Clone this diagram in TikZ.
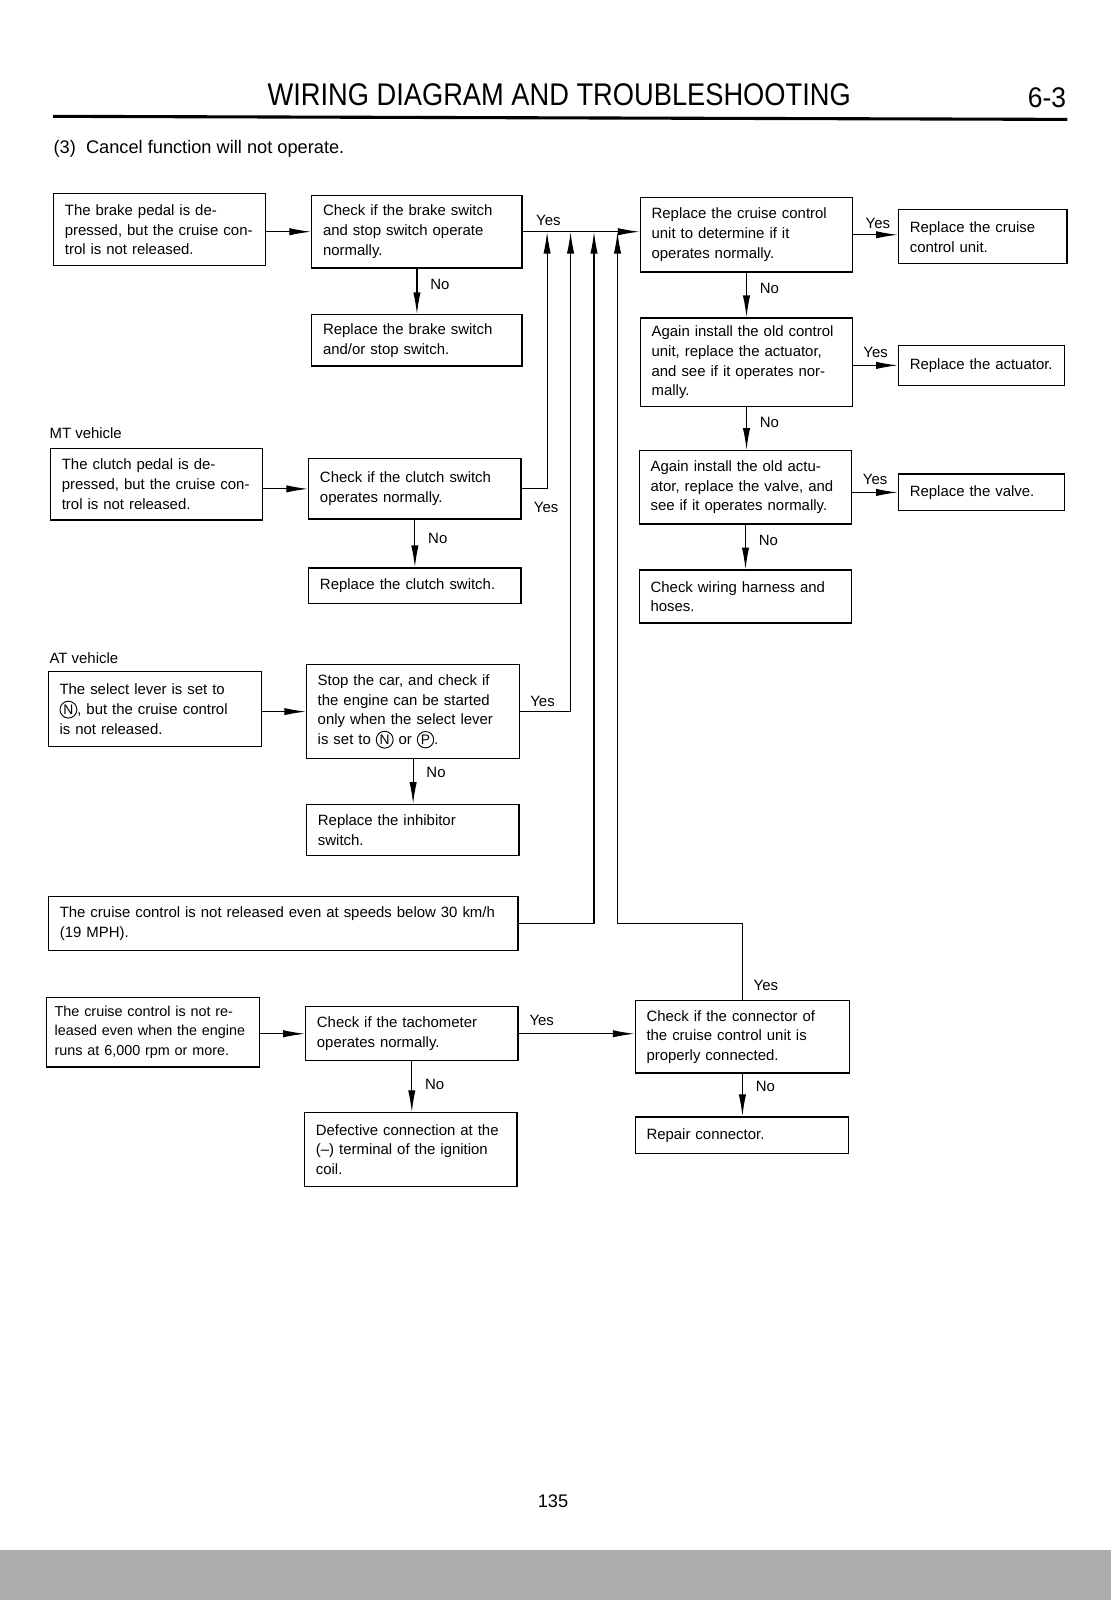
\documentclass[tikz,border=0pt]{standalone}
\usepackage{fontspec}
\setmainfont{Liberation Sans}
\usetikzlibrary{arrows.meta,calc}
\definecolor{ScanGray}{RGB}{172,172,172}
\def\u{0.56pt}
% circled gear position letter
\newcommand{\circled}[1]{\tikz[baseline=(cc.base)]\node[draw, circle, anchor=base,
  inner sep=0.6pt, text width={}, minimum width=0pt, minimum height=0pt,
  align=center, line width=0.5pt] (cc) {\fontsize{7.6}{8}\selectfont #1};}
\tikzset{
  box/.style 2 args={draw, anchor=north west, align=left,
    minimum width=#1*\u, minimum height=#2*\u,
    text width=(#1-22)*\u, inner xsep=11*\u, inner ysep=1pt},
  lbl/.style={inner sep=1pt},
  arr/.style={-{Latex[length=12pt,width=4pt]}},
}

\begin{document}
\begin{tikzpicture}[x=0.56pt, y=-0.56pt, line width=0.65pt,
  font=\fontsize{8.2}{10.8}\selectfont]
  \useasboundingbox (0,0) rectangle (1089,1568);
  \fill[ScanGray] (0,1519) rectangle (1089,1568);

  \node (title) at (548,93)
    {\scalebox{0.87}[1]{\fontsize{17.2}{20}\selectfont WIRING DIAGRAM AND TROUBLESHOOTING}};
  \node (page) at (1026,96)
    {\scalebox{0.93}[1]{\fontsize{15.6}{18}\selectfont 6-3}};
  \draw[line width=1.7pt] (52,114) -- (1046,117);
  \node[anchor=west, inner sep=0pt, font=\fontsize{10}{12}\selectfont] (sub) at (52,146)
    {(3)\ \ Cancel function will not operate.};

  % brake
  \node[box={208}{71}] (A1) at (52,189)
    {The brake pedal is de-\\pressed, but the cruise con-\\trol is not released.};
  \node[box={206}{71}] (A2) at (305,191)
    {Check if the brake switch\\and stop switch operate\\normally.};
  \node[box={206}{50}] (A3) at (305,308)
    {Replace the brake switch\\and/or stop switch.};

  % cruise control unit column
  \node[box={208}{73}] (R1) at (627,193)
    {Replace the cruise control\\unit to determine if it\\operates normally.};
  \node[box={165}{53}] (R1Y) at (880,205)
    {Replace the cruise\\control unit.};
  \node[box={208}{87}] (R2) at (627,311)
    {Again install the old control\\unit, replace the actuator,\\and see if it operates nor-\\mally.};
  \node[box={163}{39}] (R2Y) at (880,338) {Replace the actuator.};
  \node[box={208}{72}] (R3) at (626,441)
    {Again install the old actu-\\ator, replace the valve, and\\see if it operates normally.};
  \node[box={163}{36}] (R3Y) at (880,464) {Replace the valve.};
  \node[box={208}{52}] (R4) at (626,558)
    {Check wiring harness and\\hoses.};

  % MT
  \node[anchor=west, inner sep=0pt] (mt) at (48,424) {MT vehicle};
  \node[box={208}{70}] (B1) at (49,439)
    {The clutch pedal is de-\\pressed, but the cruise con-\\trol is not released.};
  \node[box={208}{59}] (B2) at (302,449)
    {Check if the clutch switch\\operates normally.};
  \node[box={208}{35}] (B3) at (302,556) {Replace the clutch switch.};

  % AT
  \node[anchor=west, inner sep=0pt] (at) at (48,645) {AT vehicle};
  \node[box={209}{73}] (C1) at (47,658)
    {The select lever is set to\\\circled{N}, but the cruise control\\is not released.};
  \node[box={209}{92}] (C2) at (300,651)
    {Stop the car, and check if\\the engine can be started\\only when the select lever\\is set to \circled{N} or \circled{P}.};
  \node[box={208}{50}] (C3) at (300,788)
    {Replace the inhibitor\\switch.};

  \node[box={460}{53}] (D) at (47,878)
    {The cruise control is not released even at speeds below 30 km/h\\(19 MPH).};

  % tachometer
  \node[box={209}{68}, inner xsep=8*\u, text width=(209-16)*\u,
    font=\fontsize{7.9}{10.8}\selectfont] (E1) at (45,977)
    {The cruise control is not re-\\leased even when the engine\\runs at 6,000 rpm or more.};
  \node[box={208}{53}] (E2) at (299,986)
    {Check if the tachometer\\operates normally.};
  \node[box={208}{72}] (E3) at (298,1090)
    {Defective connection at the\\(--) terminal of the ignition\\coil.};
  \node[box={210}{71}] (F1) at (622,980)
    {Check if the connector of\\the cruise control unit is\\properly connected.};
  \node[box={209}{36}] (F2) at (622,1094) {Repair connector.};

  \node (num) at (542,1471) {\fontsize{10}{12}\selectfont 135};

  % connectors
  \coordinate (j1) at ($(A2.east)+(24,0)$);
  \coordinate (j2) at ($(A2.east)+(47,0)$);
  \coordinate (j3) at ($(A2.east)+(70,0)$);
  \coordinate (j4) at ($(A2.east)+(93,0)$);

  \draw[arr] (A1.east |- A2.west) -- (A2.west);
  \draw[arr] (A2.east) -- (A2.east -| R1.west)
    node[lbl, pos=0.22, above=2pt] {Yes};
  \draw[arr] (A2.south) -- (A2.south |- A3.north)
    node[lbl, pos=0.35, right=6pt] {No};

  \draw[arr] (R1.east) -- (R1.east -| R1Y.west)
    node[lbl, pos=0.55, above=2pt] {Yes};
  \draw[arr] (R1.south) -- (R1.south |- R2.north)
    node[lbl, pos=0.35, right=6pt] {No};
  \draw[arr] (R2.east |- R2Y.west) -- (R2Y.west)
    node[lbl, pos=0.5, above=3pt] {Yes};
  \draw[arr] (R2.south) -- (R2.south |- R3.north)
    node[lbl, pos=0.35, right=6pt] {No};
  \draw[arr] (R3.east |- R3Y.west) -- (R3Y.west)
    node[lbl, pos=0.5, above=3pt] {Yes};
  \draw[arr] (R3.south) -- (R3.south |- R4.north)
    node[lbl, pos=0.35, right=6pt] {No};

  \draw[arr] (B1.east |- B2.west) -- (B2.west);
  \draw[arr] (B2.east) -| (j1);
  \node[lbl] (b2yes) at ($(B2.east)+(24,18)$) {Yes};
  \draw[arr] (B2.south) -- (B2.south |- B3.north)
    node[lbl, pos=0.4, right=6pt] {No};

  \draw[arr] (C1.east |- C2.west) -- (C2.west);
  \draw[arr] (C2.east) -| (j2);
  \node[lbl] (c2yes) at ($(C2.east)+(22,-10)$) {Yes};
  \draw[arr] (C2.south) -- (C2.south |- C3.north)
    node[lbl, pos=0.3, right=6pt] {No};

  \draw[arr] (D.east) -| (j3);
  \draw[arr] (F1.north) |- (j4 |- D.east) -- (j4);
  \node[lbl] (f1yes) at ($(F1.north)+(23,-14)$) {Yes};

  \draw[arr] (E1.east |- E2.west) -- (E2.west);
  \draw[arr] (E2.east) -- (E2.east -| F1.west)
    node[lbl, pos=0.2, above=3pt] {Yes};
  \draw[arr] (E2.south) -- (E2.south |- E3.north)
    node[lbl, pos=0.45, right=6pt] {No};
  \draw[arr] (F1.south) -- (F1.south |- F2.north)
    node[lbl, pos=0.3, right=6pt] {No};
\end{tikzpicture}
\end{document}
